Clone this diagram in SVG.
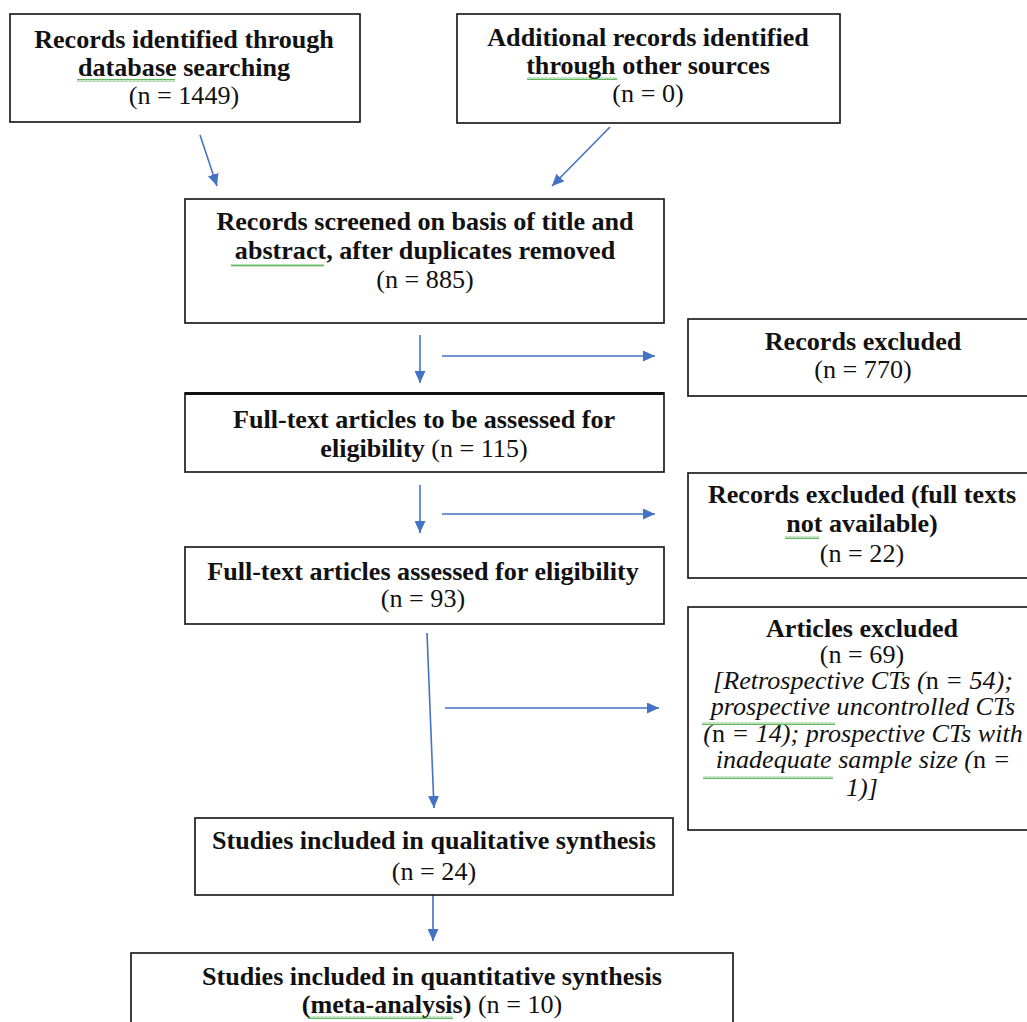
<svg xmlns="http://www.w3.org/2000/svg" width="1027" height="1022" viewBox="0 0 1027 1022">
<defs>
<style>
.box{fill:#fff;stroke:#1e1e1e;stroke-width:1.7}
.t{font-family:"Liberation Serif","Times New Roman",serif;font-size:25px;fill:#111;text-anchor:middle}
.b{font-weight:bold}
.i{font-style:italic}
.n{font-style:normal}
.c{fill:none;stroke:#4472C4;stroke-width:1.6}
.sq{fill:url(#squig)}
</style>
<marker id="ah" markerWidth="12" markerHeight="11" refX="12" refY="5.5" orient="auto" markerUnits="userSpaceOnUse">
<path d="M0,0 L12,5.5 L0,11 z" fill="#4472C4"/>
</marker>
<pattern id="squig" width="4" height="3" patternUnits="userSpaceOnUse">
<path d="M0,2.5 L1,0.5 L2,2.5 L3,0.5 L4,2.5" fill="none" stroke="#3aa53a" stroke-width="0.8"/>
</pattern>
</defs>
<rect width="1027" height="1022" fill="#fff"/>

<g id="connectors">
<line class="c" x1="200" y1="135" x2="217" y2="186" marker-end="url(#ah)"/>
<line class="c" x1="610" y1="127" x2="552" y2="186" marker-end="url(#ah)"/>
<line class="c" x1="420" y1="335" x2="420" y2="383" marker-end="url(#ah)"/>
<line class="c" x1="442" y1="356" x2="655" y2="356" marker-end="url(#ah)"/>
<line class="c" x1="420" y1="485" x2="420" y2="533" marker-end="url(#ah)"/>
<line class="c" x1="442" y1="514" x2="655" y2="514" marker-end="url(#ah)"/>
<line class="c" x1="427" y1="633" x2="434" y2="808" marker-end="url(#ah)"/>
<line class="c" x1="445" y1="708" x2="659" y2="708" marker-end="url(#ah)"/>
<line class="c" x1="433" y1="895" x2="433" y2="941" marker-end="url(#ah)"/>
</g>

<g id="node-database">
<rect class="box" x="10" y="14" width="350" height="108"/>
<text class="t b" transform="translate(184,48) scale(1.045,1)">Records identified through</text>
<text class="t b" transform="translate(184,76) scale(1.045,1)">database searching</text>
<text class="t" transform="translate(184,104) scale(1.045,1)">(n = 1449)</text>
<rect class="sq" x="77" y="79" width="98" height="3"/>
</g>

<g id="node-other">
<rect class="box" x="457" y="14" width="383" height="109"/>
<text class="t b" transform="translate(648,46) scale(1.045,1)">Additional records identified</text>
<text class="t b" transform="translate(648,74) scale(1.045,1)">through other sources</text>
<text class="t" transform="translate(648,102) scale(1.045,1)">(n = 0)</text>
<rect class="sq" x="527" y="77" width="90" height="3"/>
</g>

<g id="node-screened">
<rect class="box" x="185" y="199" width="479" height="124"/>
<text class="t b" transform="translate(425,230) scale(1.045,1)">Records screened on basis of title and</text>
<text class="t b" transform="translate(425,259) scale(1.045,1)">abstract, after duplicates removed</text>
<text class="t" transform="translate(425,288) scale(1.045,1)">(n = 885)</text>
<rect class="sq" x="231" y="264" width="93" height="3"/>
</g>

<g id="node-excluded1">
<rect class="box" x="688" y="319" width="352" height="77"/>
<text class="t b" transform="translate(863,350) scale(1.045,1)">Records excluded</text>
<text class="t" transform="translate(863,378) scale(1.045,1)">(n = 770)</text>
</g>

<g id="node-fulltext-tobe">
<rect class="box" x="185" y="393" width="479" height="79"/>
<line x1="185" y1="393.5" x2="664" y2="393.5" stroke="#111" stroke-width="3"/>
<text class="t b" transform="translate(424,428) scale(1.045,1)">Full-text articles to be assessed for</text>
<text class="t" transform="translate(424,457) scale(1.045,1)"><tspan class="b">eligibility</tspan> (n = 115)</text>
</g>

<g id="node-excluded2">
<rect class="box" x="688" y="473" width="352" height="105"/>
<text class="t b" transform="translate(862,503) scale(1.045,1)">Records excluded (full texts</text>
<text class="t b" transform="translate(862,532) scale(1.045,1)">not available)</text>
<text class="t" transform="translate(862,562) scale(1.045,1)">(n = 22)</text>
<rect class="sq" x="785" y="536" width="34" height="3"/>
</g>

<g id="node-fulltext-assessed">
<rect class="box" x="185" y="547" width="479" height="77"/>
<text class="t b" transform="translate(423,580) scale(1.045,1)">Full-text articles assessed for eligibility</text>
<text class="t" transform="translate(423,607) scale(1.045,1)">(n = 93)</text>
</g>

<g id="node-articles-excluded">
<rect class="box" x="688" y="607" width="352" height="223"/>
<text class="t b" transform="translate(862,637) scale(1.045,1)">Articles excluded</text>
<text class="t" transform="translate(862,663) scale(1.045,1)">(n = 69)</text>
<text class="t i" transform="translate(863,689) scale(1.045,1)">[Retrospective CTs (<tspan class="n">n</tspan> = 54);</text>
<text class="t i" transform="translate(863,715) scale(1.045,1)">prospective uncontrolled CTs</text>
<text class="t i" transform="translate(863,742) scale(1.045,1)">(<tspan class="n">n</tspan> = 14); prospective CTs with</text>
<text class="t i" transform="translate(863,768) scale(1.045,1)">inadequate sample size (<tspan class="n">n</tspan> =</text>
<text class="t i" transform="translate(862,796) scale(1.045,1)">1)]</text>
<rect class="sq" x="702" y="722" width="133" height="3"/>
<rect class="sq" x="703" y="776" width="130" height="3"/>
</g>

<g id="node-qualitative">
<rect class="box" x="195" y="818" width="478" height="77"/>
<text class="t b" transform="translate(434,849) scale(1.045,1)">Studies included in qualitative synthesis</text>
<text class="t" transform="translate(434,880) scale(1.045,1)">(n = 24)</text>
</g>

<g id="node-quantitative">
<rect class="box" x="131" y="953" width="602" height="90"/>
<text class="t b" transform="translate(432,985) scale(1.045,1)">Studies included in quantitative synthesis</text>
<text class="t" transform="translate(432,1013) scale(1.045,1)"><tspan class="b">(meta-analysis)</tspan> (n = 10)</text>
<rect class="sq" x="308" y="1016" width="145" height="3"/>
</g>
</svg>
